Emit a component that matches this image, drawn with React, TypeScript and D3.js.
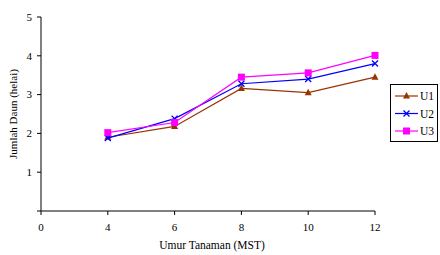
import React from 'react';
import * as d3 from 'd3';

const categories = ['0', '4', '6', '8', '10', '12'];
const u1 = [null, 1.9, 2.18, 3.16, 3.05, 3.45];
const u2 = [null, 1.88, 2.38, 3.28, 3.4, 3.8];
const u3 = [null, 2.02, 2.28, 3.45, 3.56, 4.01];
const yTicks = [1, 2, 3, 4, 5];

const series = [
  { name: 'U1', values: u1, color: '#993300', marker: 'triangle' },
  { name: 'U2', values: u2, color: '#0000FF', marker: 'cross' },
  { name: 'U3', values: u3, color: '#FF00FF', marker: 'square' },
];

const width = 440;
const height = 255;
const left = 41;
const right = 375;
const top = 17;
const bottom = 211;
const font = '"Liberation Serif", "Times New Roman", serif';

function Marker({ type, x, y, color }: { type: string; x: number; y: number; color: string }) {
  if (type === 'triangle') {
    return <path d={`M${x},${y - 4}L${x + 3.5},${y + 2.5}L${x - 3.5},${y + 2.5}Z`} fill={color} />;
  }
  if (type === 'cross') {
    return (
      <path d={`M${x - 3},${y - 3}L${x + 3},${y + 3}M${x - 3},${y + 3}L${x + 3},${y - 3}`} stroke={color} strokeWidth={1.3} />
    );
  }
  return <rect x={x - 3.5} y={y - 3.5} width={7} height={7} fill={color} />;
}

export default function App() {
  const xScale = d3.scalePoint<string>().domain(categories).range([left, right]);
  const yScale = d3.scaleLinear().domain([0, 5]).range([bottom, top]);

  const line = d3
    .line<number | null>()
    .defined(d => d != null)
    .x((_, i) => xScale(categories[i]) as number)
    .y(d => yScale(d as number));

  return (
    <svg width={width} height={height} style={{ position: 'absolute', left: 0, top: 0 }}>
      <rect width={width} height={height} fill="#fff" />
      {/* axes */}
      <line x1={left} x2={left} y1={top} y2={bottom} stroke="#000" />
      <line x1={left} x2={right} y1={bottom} y2={bottom} stroke="#000" />
      {[0, ...yTicks].map(t => (
        <g key={'y' + t}>
          <line x1={left - 4} x2={left} y1={yScale(t)} y2={yScale(t)} stroke="#000" />
          {t > 0 && (
            <text x={left - 9} y={yScale(t)} dy="0.35em" textAnchor="end" fontFamily={font} fontSize={11}>
              {t}
            </text>
          )}
        </g>
      ))}
      {categories.map(c => (
        <g key={'x' + c}>
          <line x1={xScale(c)} x2={xScale(c)} y1={bottom} y2={bottom + 4} stroke="#000" />
          <text x={xScale(c)} y={bottom + 20} textAnchor="middle" fontFamily={font} fontSize={11}>
            {c}
          </text>
        </g>
      ))}
      <text x={212} y={249} textAnchor="middle" fontFamily={font} fontSize={11.5}>
        Umur Tanaman (MST)
      </text>
      <text
        transform={`translate(17,${(top + bottom) / 2}) rotate(-90)`}
        textAnchor="middle"
        fontFamily={font}
        fontSize={11}
      >
        Jumlah Daun (helai)
      </text>
      {/* series */}
      {series.map(s => (
        <g key={s.name}>
          <path d={line(s.values) || ''} fill="none" stroke={s.color} strokeWidth={1.2} />
          {s.values.map((v, i) =>
            v == null ? null : (
              <Marker key={i} type={s.marker} x={xScale(categories[i]) as number} y={yScale(v)} color={s.color} />
            )
          )}
        </g>
      ))}
      {/* legend */}
      <rect x={390.5} y={84.5} width={47} height={57} fill="#fff" stroke="#000" />
      {series.map((s, i) => {
        const ly = 96 + i * 17.5;
        return (
          <g key={'l' + s.name}>
            <line x1={395} x2={418} y1={ly} y2={ly} stroke={s.color} strokeWidth={1.2} />
            <Marker type={s.marker} x={406.5} y={ly} color={s.color} />
            <text x={420} y={ly} dy="0.35em" fontFamily={font} fontSize={11.5}>
              {s.name}
            </text>
          </g>
        );
      })}
    </svg>
  );
}
